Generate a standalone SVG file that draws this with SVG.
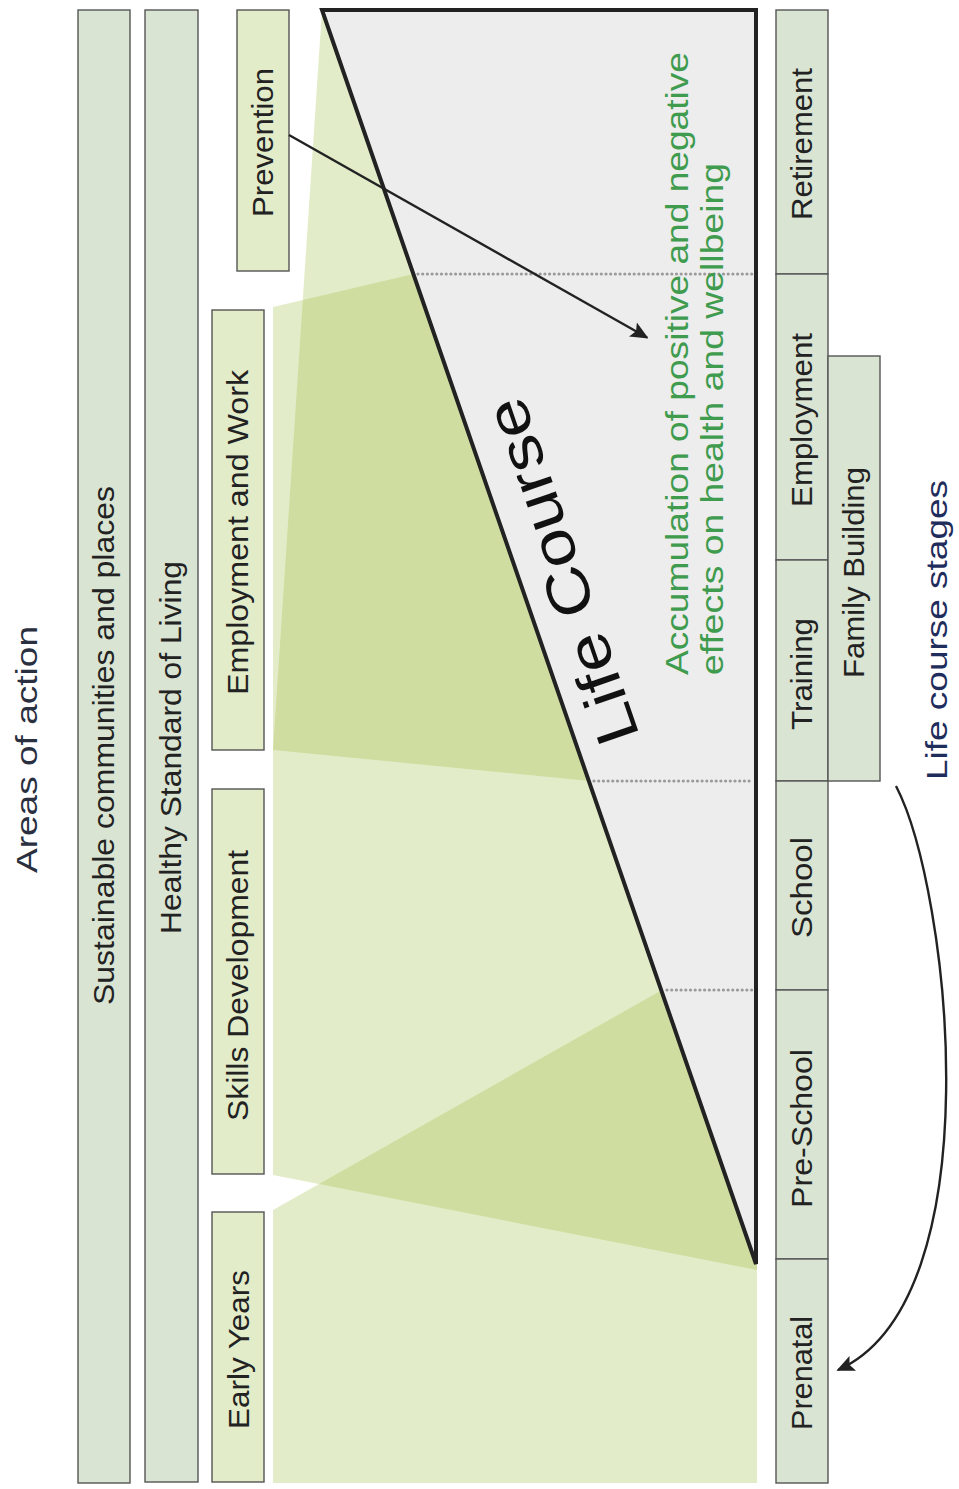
<svg xmlns="http://www.w3.org/2000/svg" width="959" height="1489" viewBox="0 0 959 1489">
  <defs>
    <style>
      .area { fill: #e3ecc9; stroke: #555; stroke-width: 1.4; }
      .band { fill: #d9e4d2; stroke: #555; stroke-width: 1.4; }
      .stage { fill: #d9e4d2; stroke: #555; stroke-width: 1.4; }
      .wedge { fill: #9dbd3f; fill-opacity: 0.286; stroke: none; }
      .lbl { font-family: "Liberation Sans", Arial, sans-serif; font-size: 29px; fill: #222; }
      .title { font-family: "Liberation Sans", Arial, sans-serif; font-size: 30px; }
      .green { font-family: "Liberation Sans", Arial, sans-serif; font-size: 32px; fill: #3f9b4e; }
      .big { font-family: "Liberation Sans", Arial, sans-serif; font-size: 60px; fill: #111; }
      .dots { stroke: #9a9a9a; stroke-width: 3.2; stroke-linecap: round; stroke-dasharray: 0 4.7; fill: none; }
      .conn { stroke: #222; stroke-width: 2.4; fill: none; }
    </style>
    <marker id="arrow" viewBox="0 0 10 10" refX="9" refY="5" markerWidth="7.5" markerHeight="7.5" markerUnits="strokeWidth" orient="auto">
      <path d="M0,0.5 L10,5 L0,9.5 L2,5 z" fill="#222"/>
    </marker>
  </defs>
  <rect width="959" height="1489" fill="#fff"/>

  <!-- translucent wedges -->
  <g id="wedges">
    <polygon class="wedge" points="322,10 273,750 589.5,781"/>
    <polygon class="wedge" points="273,307 413.6,274 589.5,781 273,750"/>
    <polygon class="wedge" points="273,750 589.5,781 757,1264 757,1270 273,1175"/>
    <polygon class="wedge" points="273,1210 662,990 757,1264 757,1483 273,1483"/>
  </g>

  <!-- life course triangle -->
  <g id="life-course">
    <polygon points="322,10 756,10 756,1264" fill="#ededed" stroke="#222" stroke-width="4"/>
    <line class="dots" x1="418" y1="274" x2="752" y2="274"/>
    <line class="dots" x1="594" y1="781" x2="752" y2="781"/>
    <line class="dots" x1="667" y1="990" x2="752" y2="990"/>
    <text class="big" transform="translate(640,736) rotate(-109)" textLength="362" lengthAdjust="spacingAndGlyphs">Life Course</text>
  </g>

  <g id="accumulation">
    <text class="green" transform="translate(688,675) rotate(-90)" textLength="623" lengthAdjust="spacingAndGlyphs">Accumulation of positive and negative</text>
    <text class="green" transform="translate(723,675) rotate(-90)" textLength="512" lengthAdjust="spacingAndGlyphs">effects on health and wellbeing</text>
  </g>

  <g id="areas-title">
    <text class="title" fill="#2a3040" transform="translate(37,873) rotate(-90)" textLength="247" lengthAdjust="spacingAndGlyphs">Areas of action</text>
  </g>

  <g id="sustainable">
    <rect class="band" x="78" y="10" width="52" height="1473"/>
    <text class="lbl" transform="translate(114,1005) rotate(-90)" textLength="519" lengthAdjust="spacingAndGlyphs">Sustainable communities and places</text>
  </g>
  <g id="healthy">
    <rect class="band" x="145" y="10" width="53" height="1472"/>
    <text class="lbl" transform="translate(181,934) rotate(-90)" textLength="373" lengthAdjust="spacingAndGlyphs">Healthy Standard of Living</text>
  </g>
  <g id="prevention">
    <rect class="area" x="237" y="10" width="52" height="261"/>
    <text class="lbl" transform="translate(273,217) rotate(-90)" textLength="149" lengthAdjust="spacingAndGlyphs">Prevention</text>
  </g>
  <g id="employment-work">
    <rect class="area" x="212" y="310" width="52" height="440"/>
    <text class="lbl" transform="translate(248,695) rotate(-90)" textLength="325" lengthAdjust="spacingAndGlyphs">Employment and Work</text>
  </g>
  <g id="skills">
    <rect class="area" x="212" y="789" width="52" height="385"/>
    <text class="lbl" transform="translate(248,1121) rotate(-90)" textLength="271" lengthAdjust="spacingAndGlyphs">Skills Development</text>
  </g>
  <g id="early-years">
    <rect class="area" x="212" y="1212" width="52" height="270"/>
    <text class="lbl" transform="translate(249,1429) rotate(-90)" textLength="159" lengthAdjust="spacingAndGlyphs">Early Years</text>
  </g>

  <g id="retirement">
    <rect class="stage" x="776" y="10" width="52" height="264"/>
    <text class="lbl" transform="translate(812,220) rotate(-90)" textLength="152" lengthAdjust="spacingAndGlyphs">Retirement</text>
  </g>
  <g id="employment">
    <rect class="stage" x="776" y="274" width="52" height="286"/>
    <text class="lbl" transform="translate(812,507) rotate(-90)" textLength="174" lengthAdjust="spacingAndGlyphs">Employment</text>
  </g>
  <g id="training">
    <rect class="stage" x="776" y="560" width="52" height="221"/>
    <text class="lbl" transform="translate(812,730) rotate(-90)" textLength="112" lengthAdjust="spacingAndGlyphs">Training</text>
  </g>
  <g id="school">
    <rect class="stage" x="776" y="781" width="52" height="209"/>
    <text class="lbl" transform="translate(812,938) rotate(-90)" textLength="101" lengthAdjust="spacingAndGlyphs">School</text>
  </g>
  <g id="pre-school">
    <rect class="stage" x="776" y="990" width="52" height="269"/>
    <text class="lbl" transform="translate(812,1208) rotate(-90)" textLength="159" lengthAdjust="spacingAndGlyphs">Pre-School</text>
  </g>
  <g id="prenatal">
    <rect class="stage" x="776" y="1259" width="52" height="224"/>
    <text class="lbl" transform="translate(812,1430) rotate(-90)" textLength="114" lengthAdjust="spacingAndGlyphs">Prenatal</text>
  </g>
  <g id="family-building">
    <rect class="stage" x="828" y="356" width="52" height="425"/>
    <text class="lbl" transform="translate(864,678) rotate(-90)" textLength="211" lengthAdjust="spacingAndGlyphs">Family Building</text>
  </g>
  <g id="stages-title">
    <text class="title" fill="#1f2d5c" transform="translate(947,780) rotate(-90)" textLength="300" lengthAdjust="spacingAndGlyphs">Life course stages</text>
  </g>

  <g id="connectors">
    <line class="conn" x1="289" y1="135" x2="647" y2="337.5" marker-end="url(#arrow)"/>
    <path class="conn" d="M896,786 C950,890 995,1300 838,1370" marker-end="url(#arrow)"/>
  </g>
</svg>
